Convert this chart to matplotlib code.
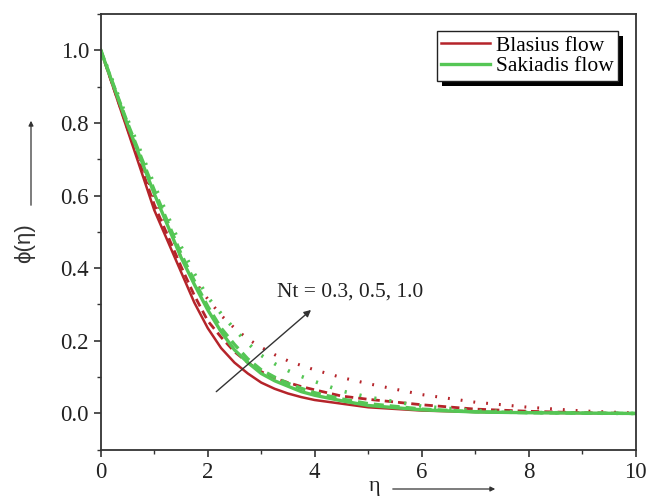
import matplotlib
matplotlib.use('Agg')
import matplotlib.pyplot as plt
from matplotlib.patches import Rectangle, FancyArrowPatch
from matplotlib.ticker import MultipleLocator

plt.rcParams['font.family'] = ['Liberation Serif', 'DejaVu Serif']

# eta grid
eta = [0, 0.5, 1, 1.5, 1.75, 2, 2.25, 2.5, 2.75, 3, 3.25, 3.5, 3.75, 4, 4.5, 5, 6, 7, 8, 9, 10]

# Blasius flow, Nt = 0.3, 0.5, 1.0
blasius_03 = [1.0, 0.78, 0.56, 0.39, 0.305, 0.235, 0.18, 0.14, 0.11, 0.085, 0.068, 0.055, 0.045, 0.037,
              0.027, 0.017, 0.008, 0.004, 0.002, 0.001, 0.0]
blasius_05 = [1.0, 0.785, 0.575, 0.405, 0.325, 0.255, 0.21, 0.17, 0.14, 0.115, 0.097, 0.085, 0.074, 0.065,
              0.048, 0.039, 0.024, 0.012, 0.006, 0.002, 0.0]
blasius_10 = [1.0, 0.795, 0.595, 0.43, 0.365, 0.315, 0.27, 0.235, 0.205, 0.182, 0.162, 0.145, 0.132, 0.12,
              0.099, 0.082, 0.052, 0.031, 0.017, 0.007, 0.001]

# Sakiadis flow, Nt = 0.3, 0.5, 1.0
sakiadis_03 = [1.0, 0.795, 0.605, 0.43, 0.355, 0.285, 0.225, 0.175, 0.14, 0.11, 0.09, 0.075, 0.06, 0.05,
               0.035, 0.022, 0.01, 0.004, 0.002, 0.001, 0.0]
sakiadis_05 = [1.0, 0.80, 0.615, 0.44, 0.365, 0.295, 0.235, 0.19, 0.15, 0.12, 0.1, 0.083, 0.069, 0.057,
               0.04, 0.027, 0.012, 0.005, 0.002, 0.001, 0.0]
sakiadis_10 = [1.0, 0.81, 0.63, 0.46, 0.385, 0.32, 0.275, 0.232, 0.193, 0.16, 0.137, 0.118, 0.102, 0.088,
               0.062, 0.045, 0.02, 0.008, 0.003, 0.001, 0.0]

red = '#b5242a'
green = '#55c655'
dashed = (0, (3.0, 1.8))
dotted = (0, (0.6, 3.6))

fig = plt.figure(figsize=(6.5, 4.97), dpi=100)
ax = fig.add_axes([0.155, 0.095, 0.823, 0.877])

ax.plot(eta, blasius_03, color=red, lw=1.8, label='Blasius flow')
ax.plot(eta, blasius_05, color=red, lw=2.0, ls=dashed)
ax.plot(eta, blasius_10, color=red, lw=2.2, ls=dotted)
ax.plot(eta, sakiadis_03, color=green, lw=2.4, label='Sakiadis flow')
ax.plot(eta, sakiadis_05, color=green, lw=2.4, ls=dashed)
ax.plot(eta, sakiadis_10, color=green, lw=2.6, ls=dotted)

ax.set_xlim(0, 10)
ax.set_ylim(-0.1, 1.1)
ax.xaxis.set_major_locator(MultipleLocator(2))
ax.xaxis.set_minor_locator(MultipleLocator(1))
ax.yaxis.set_minor_locator(MultipleLocator(0.1))
ax.set_yticks([0.0, 0.2, 0.4, 0.6, 0.8, 1.0])
ax.set_yticklabels(['0.0', '0.2', '0.4', '0.6', '0.8', '1.0'])
ax.tick_params(which='major', direction='out', length=5, width=1.2, labelsize=16.5, color='#333333',
               labelcolor='#222222')
ax.tick_params(which='minor', direction='out', length=3, width=1.0, color='#333333')
for s in ax.spines.values():
    s.set_color('#333333')
    s.set_linewidth(1.3)

# Nt annotation with arrow
ax.annotate('', xy=(3.97, 0.29), xytext=(2.12, 0.055),
            arrowprops=dict(arrowstyle='-|>', color='#333333', lw=1.0, mutation_scale=10))
ax.text(3.3, 0.335, 'Nt = 0.3, 0.5, 1.0', fontsize=15.5, va='center', ha='left', color='#222222')

leg = ax.legend(loc='upper right', bbox_to_anchor=(0.967, 0.96), fontsize=15.5, frameon=True,
                fancybox=False, framealpha=1, handlelength=2.25, handletextpad=0.3, borderpad=0.2,
                labelspacing=0.02, borderaxespad=0)
leg.get_frame().set_edgecolor('#222222')
leg.get_frame().set_facecolor('white')
leg.get_frame().set_linewidth(1.0)
leg.set_zorder(5)

# axis labels drawn with arrows, in sans-serif
fig.text(25 / 650, 1 - 243 / 497, '\u03d5(\u03b7)', rotation=90, ha='center', va='center',
         fontsize=16, family=['Liberation Sans', 'DejaVu Sans'], color='#333333')
fig.patches.append(FancyArrowPatch((31 / 650, 1 - 208 / 497), (31 / 650, 1 - 118 / 497),
                                   transform=fig.transFigure, arrowstyle='-|>', mutation_scale=7,
                                   color='#333333', lw=0.9))
fig.text(375 / 650, 1 - 486 / 497, '\u03b7', ha='center', va='center', fontsize=16, color='#222222')
fig.patches.append(FancyArrowPatch((390 / 650, 1 - 489 / 497), (498 / 650, 1 - 489 / 497),
                                   transform=fig.transFigure, arrowstyle='-|>', mutation_scale=7,
                                   color='#333333', lw=0.9))

# black offset shadow behind the legend box
fig.canvas.draw()
bb = leg.get_window_extent().transformed(ax.transAxes.inverted())
dx = 5 / (0.823 * 650)
dy = 5 / (0.877 * 497)
ax.add_patch(Rectangle((bb.x0 + dx, bb.y0 - dy), bb.width, bb.height, transform=ax.transAxes,
                       facecolor='black', edgecolor='none', zorder=4.5, clip_on=False))

fig.savefig('out.png', dpi=100)
